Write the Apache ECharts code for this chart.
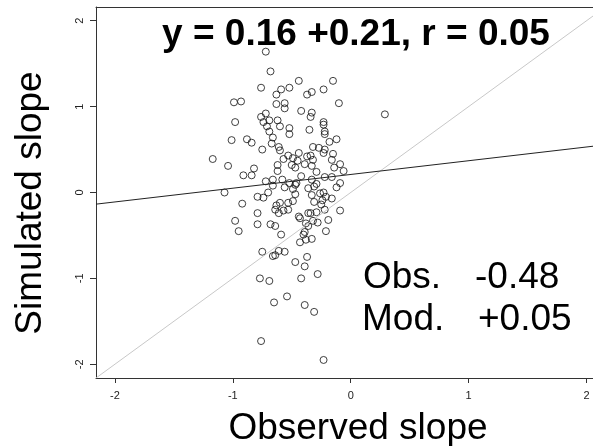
<!DOCTYPE html>
<html>
<head>
<meta charset="utf-8">
<script src="https://cdn.jsdelivr.net/npm/echarts@6/dist/echarts.min.js"></script>
<style>
  html, body { margin: 0; padding: 0; background: #FFFFFF; }
  #chart { width: 593px; height: 446px; }
</style>
</head>
<body>
<div id="chart"></div>
<script>
// observed vs simulated slope
const obsSlope = [
  -0.68, -0.76, -0.59, -0.52, -0.44, -0.15, -0.23, -0.33, -0.37, -0.63,
  -0.99, -0.93, -0.63, -0.56, -0.56, -0.10, -0.42, -0.33, -0.34, 0.29,
  -0.72, -0.76, -0.74, -0.69, -0.62, -0.98, -0.23, -0.23, -0.60, -0.71,
  -0.52, -0.52, -0.35, -0.22, -0.22, -0.69, -0.66, -1.01, -0.88, -0.84,
  -0.67, -0.12, -0.18, -0.32, -0.27, -0.22, -0.75, -0.61, -0.60, -0.15,
  -0.23, -0.44, -0.53, -0.57, -0.49, -0.37, -0.34, -0.32, -0.45, -0.16,
  -1.17, -1.04, -0.62, -0.50, -0.47, -0.39, -0.33, -0.29, -0.14, -0.09,
  -0.06, -0.82, -0.84, -0.91, -0.62, -0.42, -0.22, -0.16, -0.72, -0.66,
  -0.58, -0.52, -0.47, -0.46, -0.33, -0.29, -0.09, -0.12, -0.66, -0.56,
  -0.49, -0.36, -0.31, -1.07, -0.70, -0.79, -0.74, -0.47, -0.49, -0.33,
  -0.26, -0.23, -0.21, -0.24, -0.16, -0.92, -0.60, -0.63, -0.53, -0.31,
  -0.25, -0.64, -0.57, -0.53, -0.61, -0.79, -0.36, -0.29, -0.22, -0.09,
  -0.44, -0.43, -0.34, -0.32, -0.28, -0.19, -0.98, -0.79, -0.68, -0.64,
  -0.38, -0.36, -0.39, -0.40, -0.21, -0.95, -0.59, -0.33, -0.38, -0.43,
  -0.75, -0.61, -0.56, -0.66, -0.64, -0.37, -0.47, -0.39, -0.28, -0.77,
  -0.69, -0.42, -0.65, -0.54, -0.39, -0.31, -0.76, -0.23, -0.72
]
const simSlope = [
  1.41, 1.22, 1.20, 1.22, 1.30, 1.30, 1.20, 1.17, 1.14, 1.14,
  1.05, 1.06, 1.03, 1.04, 0.98, 1.04, 0.95, 0.93, 0.88, 0.91,
  0.92, 0.88, 0.82, 0.84, 0.84, 0.82, 0.82, 0.79, 0.77, 0.77,
  0.75, 0.68, 0.73, 0.71, 0.68, 0.71, 0.64, 0.61, 0.62, 0.58,
  0.57, 0.62, 0.59, 0.53, 0.52, 0.50, 0.50, 0.53, 0.49, 0.45,
  0.46, 0.46, 0.43, 0.39, 0.40, 0.42, 0.43, 0.38, 0.37, 0.38,
  0.39, 0.31, 0.32, 0.32, 0.29, 0.33, 0.31, 0.24, 0.29, 0.33,
  0.25, 0.28, 0.20, 0.20, 0.25, 0.19, 0.18, 0.18, 0.13, 0.15,
  0.15, 0.11, 0.09, 0.11, 0.15, 0.10, 0.11, 0.06, 0.08, 0.06,
  0.04, 0.05, 0.07, 0.00, 0.00, -0.05, -0.06, -0.02, -0.10, -0.03,
  -0.01, 0.00, -0.05, -0.09, -0.07, -0.13, -0.12, -0.15, -0.12, -0.11,
  -0.14, -0.20, -0.21, -0.20, -0.24, -0.24, -0.24, -0.23, -0.20, -0.21,
  -0.28, -0.30, -0.24, -0.33, -0.35, -0.32, -0.33, -0.37, -0.37, -0.39,
  -0.36, -0.39, -0.46, -0.49, -0.45, -0.45, -0.49, -0.54, -0.55, -0.58,
  -0.69, -0.68, -0.69, -0.74, -0.73, -0.75, -0.81, -0.86, -0.95, -1.00,
  -1.03, -1.00, -1.28, -1.21, -1.31, -1.39, -1.73, -1.95, 1.64
]
const tickValues = [-2, -1, 0, 1, 2]
// fitted line  y = a + b * x
const fitIntercept = 0.21
const fitSlope = 0.16
const titleText = 'y = 0.16 +0.21, r = 0.05'
const statNames = ['Obs.', 'Mod.']
const statValues = ['-0.48', '+0.05']
const xTitle = 'Observed slope'
const yTitle = 'Simulated slope'

const xMin = -2.16, xMax = 2.055
const yMin = -2.16, yMax = 2.16
const font = '"Liberation Sans", Arial, Helvetica, sans-serif'

const points = obsSlope.map((x, i) => [x, simSlope[i]])
const fitLine = [xMin, xMax].map(x => [x, fitIntercept + fitSlope * x])
const oneToOne = [[xMin, xMin], [xMax, xMax]]

function bigText(text, x, y, extra) {
  return Object.assign({
    type: 'text', x: x, y: y,
    style: { text: text, fontSize: 37, fontFamily: font, fill: '#000', verticalAlign: 'middle' }
  }, extra || {})
}

let myChart = echarts.init(document.getElementById('chart'))
let option = {
  backgroundColor: '#FFFFFF',
  animation: false,
  grid: {
    left: 96,
    right: 0,
    top: 7,
    bottom: 68
  },
  xAxis: [{
    type: 'value',
    min: xMin,
    max: xMax,
    splitLine: { show: false },
    axisLine: { onZero: false, lineStyle: { color: '#333', width: 1 } },
    axisTick: { length: 5, lineStyle: { color: '#333' }, customValues: tickValues },
    axisLabel: { fontSize: 11, color: '#222', margin: 12, fontFamily: font, customValues: tickValues }
  }, {
    // top border of the box
    type: 'value',
    position: 'top',
    min: xMin,
    max: xMax,
    splitLine: { show: false },
    axisLine: { show: true, onZero: false, lineStyle: { color: '#333', width: 1 } },
    axisTick: { show: false },
    axisLabel: { show: false }
  }],
  yAxis: {
    type: 'value',
    min: yMin,
    max: yMax,
    splitLine: { show: false },
    axisLine: { show: true, onZero: false, lineStyle: { color: '#333', width: 1 } },
    axisTick: { show: true, length: 6, lineStyle: { color: '#333' }, customValues: tickValues },
    axisLabel: { fontSize: 11, color: '#222', rotate: 90, margin: 11, fontFamily: font, customValues: tickValues }
  },
  graphic: [
    {
      type: 'text',
      x: 356, y: 34.5,
      style: { text: titleText, fontSize: 37, fontWeight: 'bold', fontFamily: font, fill: '#000', align: 'center', verticalAlign: 'middle' }
    },
    bigText(statNames[0], 363, 278),
    bigText(statValues[0], 475, 278),
    bigText(statNames[1], 362, 320),
    bigText(statValues[1], 478, 320),
    {
      type: 'text', x: 358, y: 429,
      style: { text: xTitle, fontSize: 37, fontFamily: font, fill: '#000', align: 'center', verticalAlign: 'middle' }
    },
    {
      type: 'text', x: 31, y: 203, rotation: Math.PI / 2,
      style: { text: yTitle, fontSize: 37, fontFamily: font, fill: '#000', align: 'center', verticalAlign: 'middle' }
    }
  ],
  series: [
    {
      name: '1:1',
      type: 'line',
      data: oneToOne,
      showSymbol: false,
      lineStyle: { color: '#c8c8c8', width: 1 },
      silent: true
    },
    {
      name: 'fit',
      type: 'line',
      data: fitLine,
      showSymbol: false,
      lineStyle: { color: '#222', width: 1 },
      silent: true
    },
    {
      name: 'slopes',
      type: 'scatter',
      data: points,
      symbol: 'circle',
      symbolSize: 7,
      itemStyle: {
        color: 'rgba(0,0,0,0)',
        borderColor: '#111',
        borderWidth: 1
      }
    }
  ]
}
myChart.setOption(option)
</script>
</body>
</html>
